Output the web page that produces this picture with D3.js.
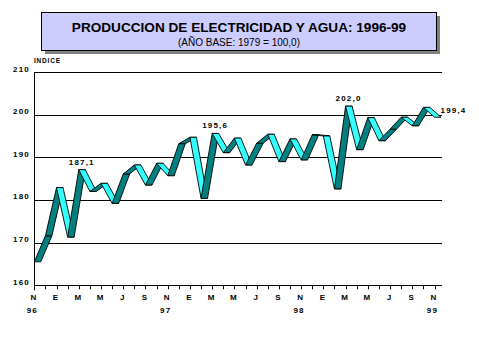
<!DOCTYPE html>
<html><head><meta charset="utf-8">
<script src="https://cdn.jsdelivr.net/npm/d3@7"></script>
<style>body{margin:0;background:#fff}svg{display:block}text{font-family:"Liberation Sans",Arial,sans-serif}</style>
</head><body>
<script>
const monthLabels = ["N","D","E","F","M","A","M","J","J","A","S","O","N","D","E","F","M","A","M","J","J","A","S","O","N","D","E","F","M","A","M","J","J","A","S","O","N"];
const yearLabels = [{i:0,t:"96"},{i:12,t:"97"},{i:24,t:"98"},{i:36,t:"99"}];
const values = [165.5,171.6,182.9,171.3,187.1,182.0,183.9,179.2,186.1,188.2,183.5,188.6,
  185.7,193.2,194.7,180.4,195.6,191.1,194.5,188.2,193.3,195.4,189.0,194.3,
  189.4,195.3,195.0,182.6,202.0,191.8,199.3,193.9,196.6,199.4,197.4,201.7,199.4];
const yTicks = [160,170,180,190,200,210];
const annotated = [{i:4,t:"187,1"},{i:16,t:"195,6"},{i:28,t:"202,0"},{i:36,t:"199,4"}];
const title = "PRODUCCION DE ELECTRICIDAD Y AGUA: 1996-99";
const subtitle = "(AÑO BASE: 1979 = 100,0)";

const W=479,H=359;
const svg=d3.select("body").append("svg").attr("width",W).attr("height",H);
const x=d3.scaleLinear().domain([0,36]).range([34.3,434.5]);
const y=d3.scaleLinear().domain([160,210]).range([285.3,72]);
const plotRight=442, depth=6.5;

// title box
svg.append("rect").attr("x",45).attr("y",16).attr("width",395).attr("height",38).attr("fill","#808080");
svg.append("rect").attr("x",41.5).attr("y",12.5).attr("width",395).attr("height",38).attr("fill","#ccccff").attr("stroke","#000").attr("stroke-width",1);
svg.append("text").attr("x",239).attr("y",32).attr("text-anchor","middle").attr("font-size",13.6).attr("font-weight","bold").text(title);
svg.append("text").attr("x",239).attr("y",46).attr("text-anchor","middle").attr("font-size",10).text(subtitle);

svg.append("text").attr("x",34).attr("y",63).attr("font-size",6.5).attr("font-weight","bold").attr("letter-spacing",0.8).text("INDICE");

// gridlines
svg.append("g").selectAll("line").data(yTicks).join("line")
  .attr("x1",x(0)).attr("x2",plotRight).attr("y1",d=>Math.round(y(d))+0.5).attr("y2",d=>Math.round(y(d))+0.5)
  .attr("stroke","#000").attr("stroke-width",1);
svg.append("line").attr("x1",34.5).attr("x2",34.5).attr("y1",y(210)).attr("y2",y(160)+5).attr("stroke","#000");
svg.append("g").selectAll("text").data(yTicks).join("text")
  .attr("x",30).attr("y",d=>y(d)-0.5).attr("text-anchor","end").attr("font-size",8).attr("font-weight","bold").attr("letter-spacing",1.2)
  .text(d=>d);

// x ticks
svg.append("g").selectAll("line").data(monthLabels).join("line")
  .attr("x1",(d,i)=>Math.round(x(i))+0.5).attr("x2",(d,i)=>Math.round(x(i))+0.5)
  .attr("y1",y(160)).attr("y2",y(160)+4).attr("stroke","#000");
svg.append("g").selectAll("text").data(monthLabels.map((t,i)=>({t,i})).filter(d=>d.i%2===0)).join("text")
  .attr("x",d=>x(d.i)-1).attr("y",d=>y(160)+15).attr("text-anchor","middle").attr("font-size",8).attr("font-weight","bold").text(d=>d.t);
svg.append("g").selectAll("text").data(yearLabels).join("text")
  .attr("x",d=>x(d.i)-2).attr("y",d=>y(160)+28).attr("text-anchor","middle").attr("font-size",8).attr("font-weight","bold").attr("letter-spacing",1.2).text(d=>d.t);

// ribbon
const pts=values.map((v,i)=>[x(i),y(v)]);
const g=svg.append("g");
for(let i=0;i<pts.length-1;i++){
  const a=pts[i],b=pts[i+1];
  const poly=[a,b,[b[0]+depth,b[1]],[a[0]+depth,a[1]]];
  g.append("path").attr("d",d3.line()(poly)+"Z")
    .attr("fill", b[1]<a[1] ? "#008080" : "#33ffff")
    .attr("stroke","#000").attr("stroke-width",0.9).attr("stroke-linejoin","round");
}

// annotations
svg.append("g").selectAll("text").data(annotated).join("text")
  .attr("x",d=>d.i===36 ? x(d.i)+6 : x(d.i)+3)
  .attr("y",d=>d.i===36 ? y(values[d.i])-4 : y(values[d.i])-5)
  .attr("text-anchor",d=>d.i===36?"start":"middle")
  .attr("font-size",8).attr("font-weight","bold").attr("letter-spacing",1.2).text(d=>d.t);
</script>
</body></html>
